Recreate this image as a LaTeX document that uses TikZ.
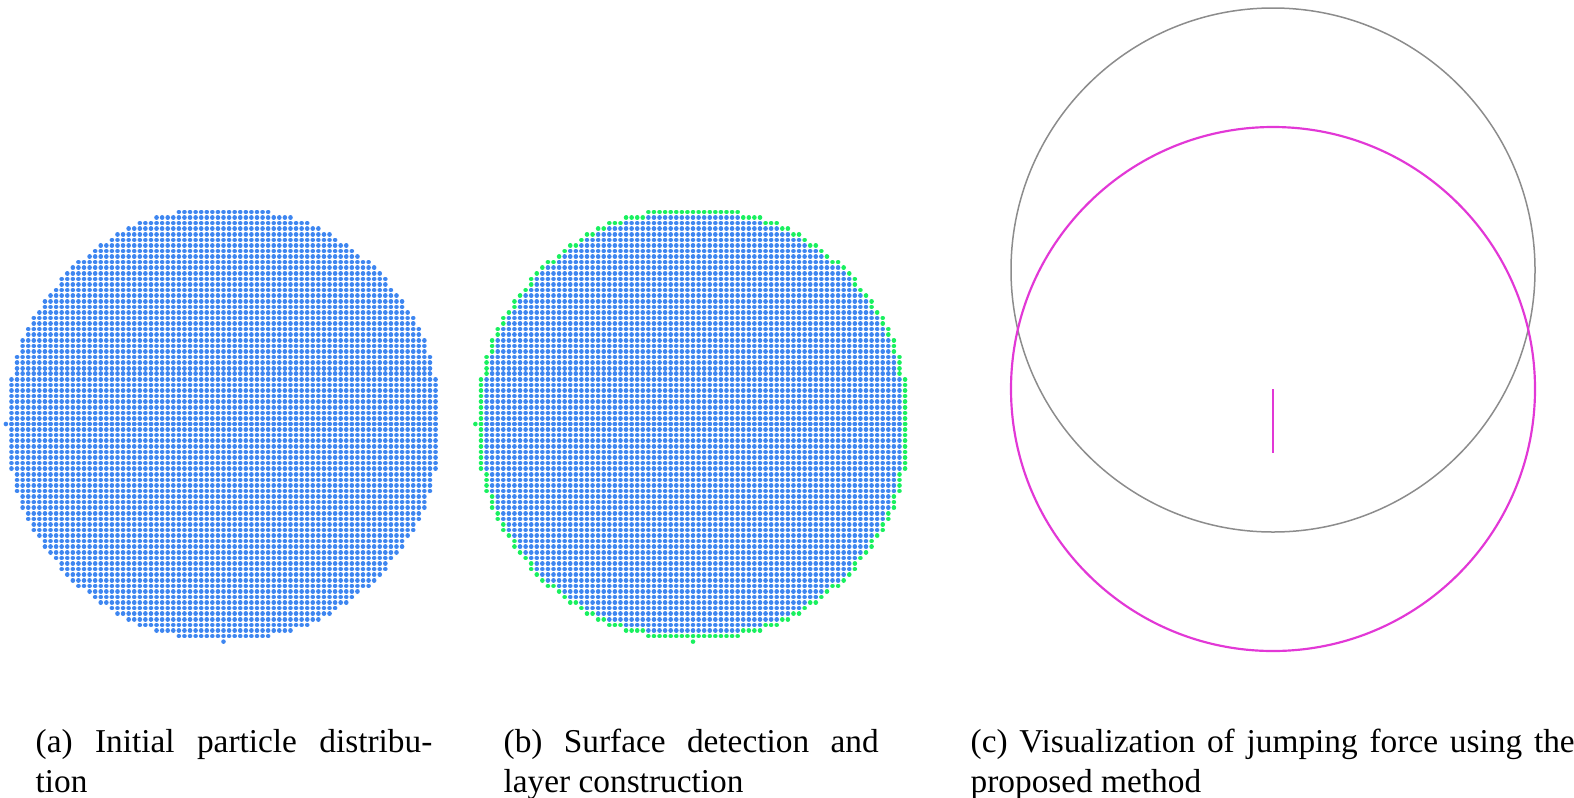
\documentclass[tikz,border=0pt]{standalone}
\usepackage{fontspec}
\setmainfont{Liberation Serif}
\definecolor{pblue}{RGB}{62,134,240}
\definecolor{pgreen}{RGB}{25,240,95}
\definecolor{cmag}{RGB}{226,56,214}
\definecolor{cgray}{RGB}{140,140,140}
\tikzset{
  captext/.style={font=\fontsize{10}{12}\selectfont, align=justify, inner sep=0pt, anchor=base west},
  ring/.style={line width=0.45pt, draw=cgray},
  magring/.style={line width=0.65pt, draw=cmag},
  dots/.style={line width=1.38pt, line cap=round, dash pattern=on 0.01pt off 1.664pt},
}
\begin{document}
\begin{tikzpicture}[x=0.3pt,y=-0.3pt]
\useasboundingbox (0,0) rectangle (1574,797);
\def\hh{5.58}
\foreach \j/\m/\b in {0/38/37,1/38/37,2/38/37,3/38/37,4/38/37,5/38/37,6/38/37,7/38/37,8/38/37,9/37/36,10/37/36,11/37/36,12/37/36,13/36/35,14/36/35,15/36/35,16/35/34,17/35/34,18/34/33,19/34/33,20/33/32,21/32/31,22/32/31,23/31/30,24/30/29,25/29/28,26/29/28,27/28/27,28/27/26,29/26/24,30/24/23,31/23/22,32/22/20,33/20/19,34/19/17,35/17/15,36/15/12,37/12/8,38/8/-1}{
  \foreach \s in {1,-1}{
    \pgfmathsetmacro\ya{424+\s*\j*\hh}
    % (a) all blue
    \draw[dots, pblue] (223.5-\m*\hh,\ya) -- (224.5+\m*\hh,\ya);
    % (b) interior blue, surface green
    \ifnum\b>-1
      \draw[dots, pblue] (693-\b*\hh,\ya) -- (694+\b*\hh,\ya);
      \draw[dots, pgreen] (693-\m*\hh,\ya) -- (693.5-\b*\hh-\hh,\ya);
      \draw[dots, pgreen] (693+\b*\hh+\hh,\ya) -- (694+\m*\hh,\ya);
    \else
      \draw[dots, pgreen] (693-\m*\hh,\ya) -- (694+\m*\hh,\ya);
    \fi
  }
}
% protruding particles
\fill[pblue] (223.5-39*\hh,424) circle[radius=2.3] (223.5,424+39*\hh) circle[radius=2.3];
\fill[pgreen] (693-39*\hh,424) circle[radius=2.3] (693,424+39*\hh) circle[radius=2.3];
% (c) circles
\coordinate (cg) at (1273,270);
\coordinate (cm) at (1273,389);
\coordinate (fe) at (1273,453);
\draw[ring] (cg) circle[radius=262];
\draw[magring] (cm) circle[radius=262];
\draw[draw=cmag, line width=0.75pt] (cm) -- (fe);
% captions
\node[captext, text width=119pt] (capa) at (35,752) {(a) Initial particle distribu-\linebreak tion};
\node[captext, text width=112.5pt] (capb) at (503,752) {(b) Surface detection and\linebreak layer construction};
\node[captext, text width=181.2pt] (capc) at (970,752) {(c) Visualization of jumping force using the\linebreak proposed method};
\end{tikzpicture}
\end{document}
